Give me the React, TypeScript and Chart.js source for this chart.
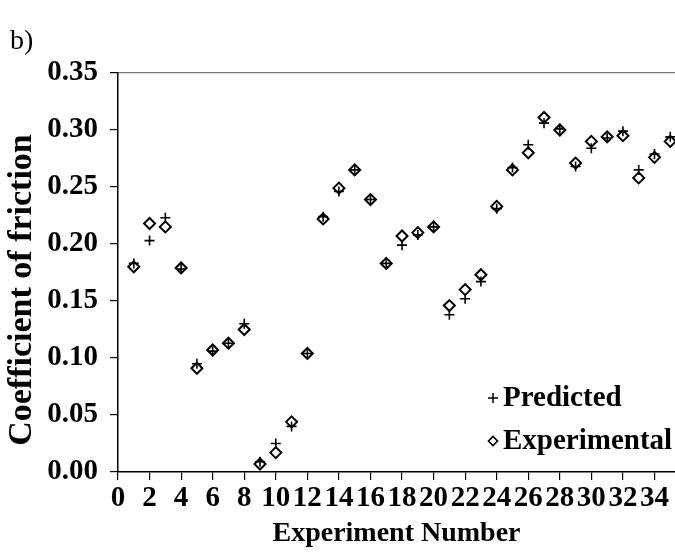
import React, { useEffect, useRef } from "react";
import { Chart, registerables } from "chart.js";

Chart.register(...registerables);

const experiments = [
  1, 2, 3, 4, 5, 6, 7, 8, 9, 10, 11, 12, 13, 14, 15, 16, 17, 18, 19, 20, 21, 22, 23, 24, 25, 26, 27, 28, 29, 30, 31, 32, 33, 34, 35,
];
const predicted = [
  0.183, 0.203, 0.223, 0.178, 0.095, 0.106, 0.113, 0.130, 0.009, 0.025, 0.040, 0.104, 0.224, 0.246, 0.265, 0.239, 0.183, 0.199,
  0.208, 0.215, 0.138, 0.152, 0.167, 0.231, 0.267, 0.287, 0.306, 0.301, 0.268, 0.284, 0.293, 0.299, 0.265, 0.279, 0.294,
];
const experimental = [
  0.180, 0.218, 0.215, 0.179, 0.091, 0.107, 0.113, 0.125, 0.007, 0.017, 0.044, 0.104, 0.222, 0.249, 0.265, 0.239, 0.183, 0.207,
  0.210, 0.215, 0.146, 0.160, 0.173, 0.233, 0.265, 0.280, 0.311, 0.300, 0.271, 0.290, 0.294, 0.295, 0.258, 0.276, 0.290,
];
const xTicks = [0, 2, 4, 6, 8, 10, 12, 14, 16, 18, 20, 22, 24, 26, 28, 30, 32, 34];
const yTicks = [0, 0.05, 0.1, 0.15, 0.2, 0.25, 0.3, 0.35];
const seriesNames = ["Predicted", "Experimental"];
const panelLabel = "b)";
const xTitle = "Experiment Number";
const yTitle = "Coefficient of friction";

const FONT = "'Liberation Serif', 'Times New Roman', serif";

const annotationPlugin = {
  id: "customLegend",
  afterDraw(chart: any) {
    const ctx = chart.ctx;
    const area = chart.chartArea;
    ctx.save();
    ctx.fillStyle = "#000";
    // panel label
    ctx.font = `28px ${FONT}`;
    ctx.textBaseline = "alphabetic";
    ctx.textAlign = "left";
    ctx.fillText(panelLabel, 10, 49);

    // y axis title
    ctx.save();
    ctx.translate(22, 290);
    ctx.rotate(-Math.PI / 2);
    ctx.font = `bold 34px ${FONT}`;
    ctx.textAlign = "center";
    ctx.textBaseline = "middle";
    ctx.fillText(yTitle, 0, 0);
    ctx.restore();

    // legend
    const mx = area.right - 182;
    const tx = area.right - 172;
    const rows = [area.bottom - 74, area.bottom - 31];
    ctx.strokeStyle = "#000";
    ctx.lineWidth = 1.5;
    ctx.beginPath();
    ctx.moveTo(mx - 5, rows[0]);
    ctx.lineTo(mx + 5, rows[0]);
    ctx.moveTo(mx, rows[0] - 5);
    ctx.lineTo(mx, rows[0] + 5);
    ctx.stroke();
    ctx.beginPath();
    ctx.moveTo(mx, rows[1] - 4.5);
    ctx.lineTo(mx + 4.5, rows[1]);
    ctx.lineTo(mx, rows[1] + 4.5);
    ctx.lineTo(mx - 4.5, rows[1]);
    ctx.closePath();
    ctx.lineWidth = 1.6;
    ctx.stroke();

    ctx.font = `bold 29px ${FONT}`;
    ctx.textAlign = "left";
    ctx.textBaseline = "middle";
    seriesNames.forEach((n, i) => ctx.fillText(n, tx, rows[i] + 1));
    ctx.restore();
  },
};

export default function App() {
  const ref = useRef<HTMLCanvasElement | null>(null);
  useEffect(() => {
    if (!ref.current) return;
    const chart = new Chart(ref.current, {
      type: "scatter",
      data: {
        datasets: [
          {
            label: seriesNames[0],
            data: experiments.map((x, i) => ({ x, y: predicted[i] })),
            pointStyle: "cross",
            pointRadius: 5,
            pointBorderWidth: 1.6,
            borderColor: "#000",
            backgroundColor: "#000",
          },
          {
            label: seriesNames[1],
            data: experiments.map((x, i) => ({ x, y: experimental[i] })),
            pointStyle: "rectRot",
            pointRadius: 5.5,
            pointBorderWidth: 2,
            borderColor: "#000",
            backgroundColor: "rgba(0,0,0,0)",
          },
        ],
      },
      options: {
        animation: false,
        responsive: false,
        layout: { autoPadding: false, padding: { top: 73, right: 0, left: 0, bottom: 0 } },
        plugins: { legend: { display: false }, tooltip: { enabled: false } },
        scales: {
          x: {
            type: "linear",
            min: 0,
            max: 35.3,
            afterFit: (s: any) => {
              s.height = 83;
              s.paddingRight = 0;
              s.paddingLeft = 0;
            },
            afterBuildTicks: (s: any) => {
              s.ticks = xTicks.map((v) => ({ value: v }));
            },
            ticks: {
              color: "#000",
              font: { family: FONT, size: 29, weight: "bold" },
              padding: 1,
              maxRotation: 0,
              autoSkip: false,
            },
            grid: { drawOnChartArea: false, drawTicks: true, tickLength: 8, color: "#000", lineWidth: 1.2 },
            border: { display: true, color: "#000", width: 1.5 },
            title: {
              display: true,
              text: xTitle,
              color: "#000",
              font: { family: FONT, size: 28, weight: "bold" },
              padding: { top: 0, bottom: 4 },
            },
          },
          y: {
            type: "linear",
            min: 0,
            max: 0.35,
            afterFit: (s: any) => {
              s.width = 118;
              s.paddingTop = 0;
              s.paddingBottom = 0;
            },
            afterBuildTicks: (s: any) => {
              s.ticks = yTicks.map((v) => ({ value: v }));
            },
            ticks: {
              color: "#000",
              font: { family: FONT, size: 29, weight: "bold" },
              padding: 12,
              callback: (v: any) => Number(v).toFixed(2),
            },
            grid: {
              drawOnChartArea: true,
              drawTicks: true,
              tickLength: 8,
              lineWidth: 1.2,
              tickColor: "#000",
              color: (c: any) => (c.tick && Math.abs(c.tick.value - 0.35) < 1e-9 ? "#777" : "rgba(0,0,0,0)"),
            },
            border: { display: true, color: "#000", width: 1.5 },
            title: { display: false },
          },
        },
      },
      plugins: [annotationPlugin],
    } as any);
    return () => chart.destroy();
  }, []);
  return (
    <div style={{ position: "absolute", left: 0, top: 0, width: 675, height: 555, background: "#fff" }}>
      <canvas ref={ref} width={675} height={555} />
    </div>
  );
}
